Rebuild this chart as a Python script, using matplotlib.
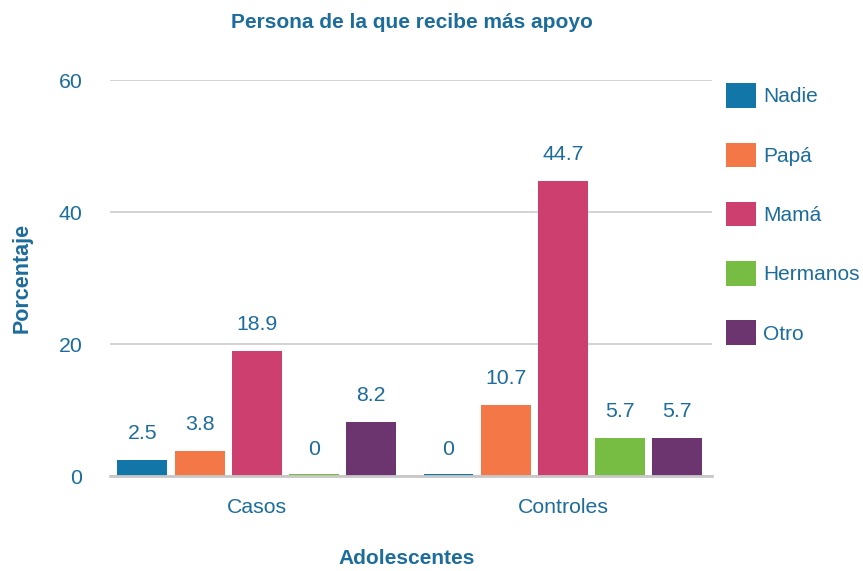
import matplotlib
matplotlib.use("Agg")
import matplotlib.pyplot as plt
import numpy as np

plt.rcParams['font.family'] = ['Liberation Sans', 'DejaVu Sans']

groups = ["Casos", "Controles"]
series = ["Nadie", "Papá", "Mamá", "Hermanos", "Otro"]
values = {
    "Nadie":    [2.5, 0],
    "Papá":     [3.8, 10.7],
    "Mamá":     [18.9, 44.7],
    "Hermanos": [0, 5.7],
    "Otro":     [8.2, 5.7],
}
colors = ["#1276a8", "#f47748", "#cc3f6f", "#78bd43", "#6d356f"]
yticks = [0, 20, 40, 60]

text_color = "#1c6c9c"
fs = 15.3

fig = plt.figure(figsize=(8.63, 5.71), dpi=100)
ax = fig.add_axes([110 / 863, 1 - 476 / 571, 602 / 863, 396 / 571])

x = np.arange(len(groups))
step = 0.187
width = 0.163
for i, name in enumerate(series):
    vals = np.array(values[name], dtype=float)
    shown = np.maximum(vals, 0.3)  # zero bars still show as a thin line
    pos = x + (i - 2) * step
    ax.bar(pos, shown, width=width, color=colors[i], label=name, zorder=3)
    for xp, v in zip(pos, vals):
        ax.annotate(f"{v:g}", (xp, v), xytext=(0, 19), textcoords="offset points",
                    ha="center", va="center", fontsize=fs, color=text_color)

ax.set_xlim(-0.48, 1.487)
ax.set_ylim(0, 60)
ax.set_yticks(yticks)
ax.set_xticks(x)
ax.set_xticklabels(groups)
ax.tick_params(axis="y", length=0, pad=20, labelsize=fs, labelcolor=text_color)
ax.tick_params(axis="x", length=0, pad=16, labelsize=fs, labelcolor=text_color)
ax.grid(axis="y", color="#cccccc", linewidth=1.2, zorder=0)
for s in ["left", "right", "top"]:
    ax.spines[s].set_visible(False)
ax.spines["bottom"].set_color("#c8c8c8")
ax.spines["bottom"].set_linewidth(2)
ax.spines["bottom"].set_zorder(4)

fig.text(412 / 863, 1 - 22 / 571, "Persona de la que recibe más apoyo", ha="center", va="center",
         fontsize=15, fontweight="bold", color=text_color)
fig.text(22 / 863, 1 - 278 / 571, "Porcentaje", ha="center", va="center", rotation=90,
         fontsize=15.5, fontweight="bold", color=text_color)
fig.text(407 / 863, 1 - 558 / 571, "Adolescentes", ha="center", va="center",
         fontsize=15, fontweight="bold", color=text_color)

leg = fig.legend(loc="upper left", bbox_to_anchor=(718 / 863, 1 - 75 / 571), frameon=False,
                 fontsize=15, handlelength=1.43, handleheight=1.43, labelspacing=1.67,
                 handletextpad=0.33, borderaxespad=0)
for t in leg.get_texts():
    t.set_color(text_color)

fig.savefig("out.png", dpi=100)
